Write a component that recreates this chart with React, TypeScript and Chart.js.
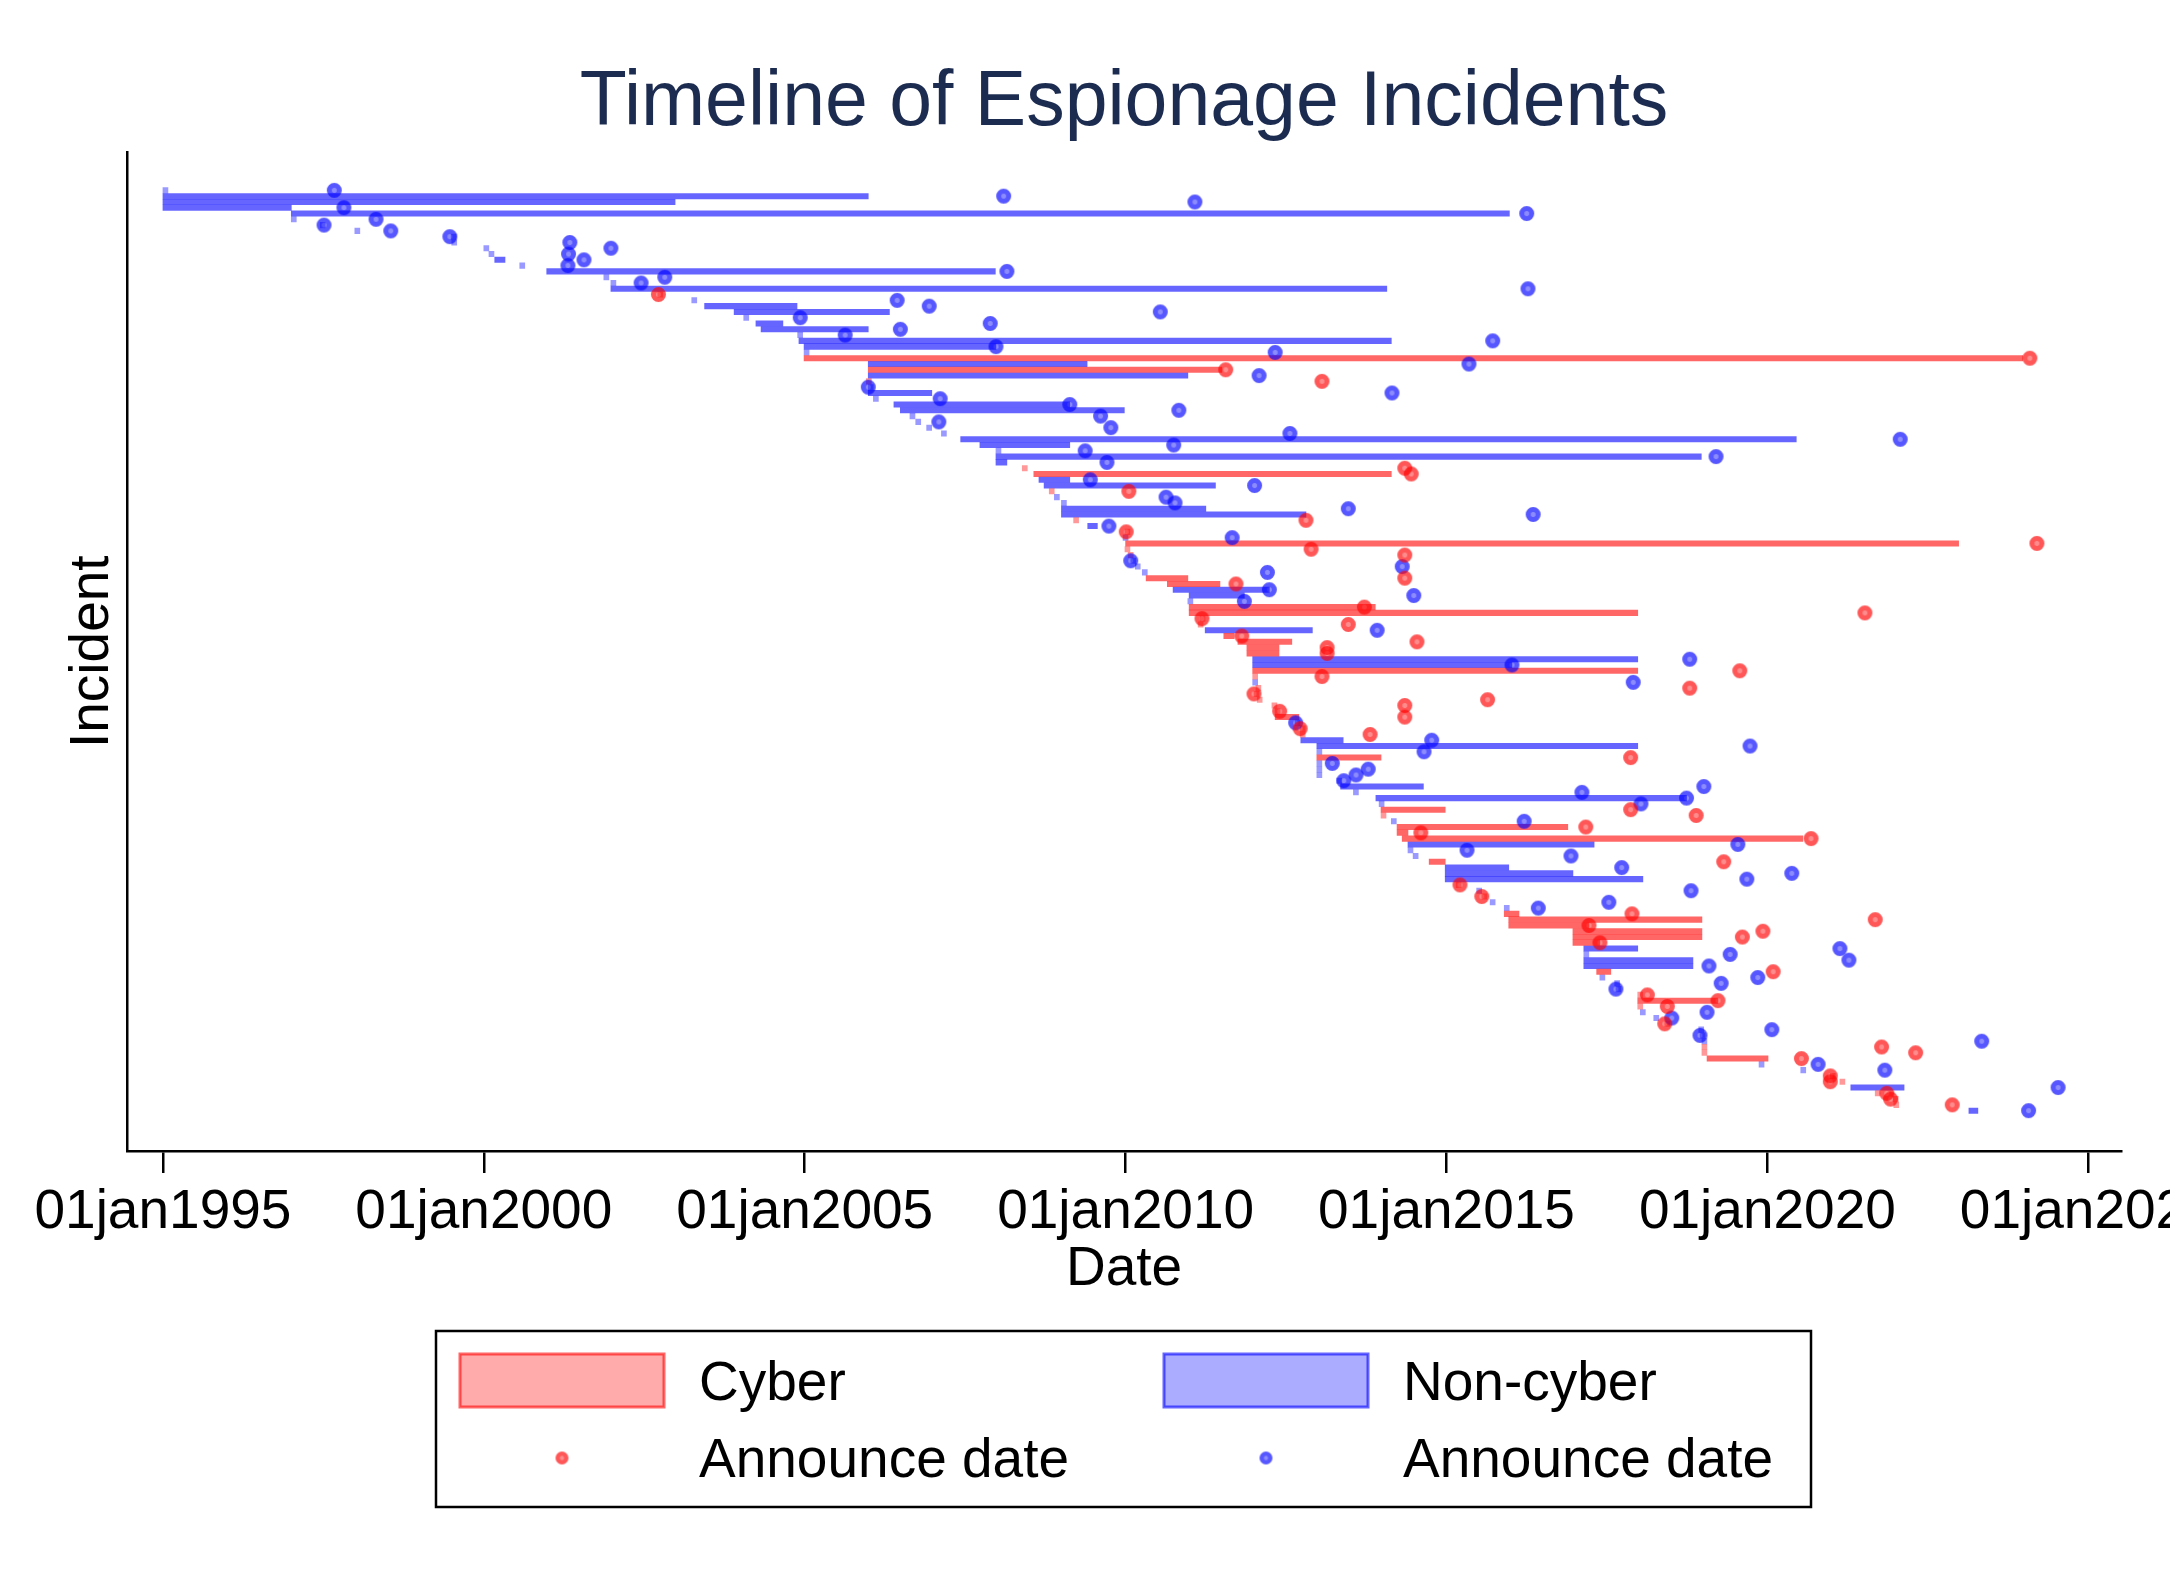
import { useEffect, useRef } from "react";
import { Chart, registerables } from "chart.js";

Chart.register(...registerables);

const TITLE = "Timeline of Espionage Incidents";
const TICK_YEARS = [1995, 2000, 2005, 2010, 2015, 2020, 2025];

// one entry per incident, top row first ("c" = cyber, "n" = non-cyber)
const INCIDENT_TYPE = [
  "n", "n", "n", "n", "n", "n", "n", "n", "n", "n",
  "n", "n", "n", "n", "n", "n", "n", "n", "c", "n",
  "n", "n", "n", "n", "n", "n", "n", "n", "n", "c",
  "n", "c", "n", "c", "n", "n", "n", "n", "n", "n",
  "n", "n", "n", "n", "n", "n", "n", "n", "c", "c",
  "n", "n", "c", "n", "n", "n", "n", "c", "n", "c",
  "n", "c", "c", "c", "n", "n", "n", "c", "c", "n",
  "n", "n", "c", "c", "c", "c", "n", "c", "c", "c",
  "c", "n", "n", "c", "c", "n", "c", "c", "c", "c",
  "c", "c", "n", "c", "c", "n", "n", "n", "c", "n",
  "n", "n", "n", "n", "n", "n", "n", "c", "c", "n",
  "c", "c", "c", "n", "n", "n", "c", "n", "n", "n",
  "c", "n", "c", "n", "n", "c", "c", "c", "c", "c",
  "c", "n", "n", "n", "n", "c", "n", "n", "n", "c",
  "c", "c", "n", "n", "c", "n", "n", "n", "c", "c",
  "c", "n", "n", "c", "c", "n", "c", "c", "c", "n",
];

// dates as decimal years
const START_YEAR = [
  1995.0, 1995.0, 1995.0, 1995.0, 1997.0, 1997.0, 1997.45, 1997.99, 1999.49, 1999.5,
  2000.0, 2000.08, 2000.17, 2000.56, 2000.98, 2001.87, 2001.98, 2001.98, 2002.71, 2003.24,
  2003.44, 2003.9, 2004.05, 2004.24, 2004.32, 2004.89, 2004.91, 2004.99, 2004.99, 2004.99,
  2005.99, 2005.99, 2005.99, 2005.96, 2005.99, 2005.99, 2006.07, 2006.39, 2006.49, 2006.64,
  2006.73, 2006.9, 2007.13, 2007.43, 2007.73, 2007.98, 2007.98, 2007.98, 2008.39, 2008.57,
  2008.65, 2008.73, 2008.81, 2008.89, 2009.0, 2009.0, 2009.0, 2009.19, 2009.41, 2009.99,
  2009.96, 2010.0, 2009.99, 2010.04, 2010.08, 2010.15, 2010.26, 2010.32, 2010.65, 2010.74,
  2010.99, 2010.97, 2010.99, 2010.99, 2011.16, 2011.13, 2011.24, 2011.53, 2011.75, 2011.89,
  2011.89, 2011.98, 2011.98, 2011.98, 2011.98, 2011.98, 2012.03, 2012.0, 2012.05, 2012.28,
  2012.33, 2012.33, 2012.64, 2012.72, 2012.72, 2012.73, 2012.98, 2012.98, 2012.98, 2012.98,
  2012.98, 2012.98, 2013.29, 2013.35, 2013.55, 2013.9, 2013.95, 2013.98, 2013.98, 2014.14,
  2014.23, 2014.23, 2014.31, 2014.4, 2014.4, 2014.48, 2014.73, 2014.98, 2014.98, 2014.98,
  2015.15, 2015.47, 2015.55, 2015.68, 2015.9, 2015.9, 2015.97, 2015.97, 2016.97, 2016.97,
  2016.97, 2017.14, 2017.14, 2017.14, 2017.14, 2017.34, 2017.39, 2017.62, 2017.64, 2017.98,
  2017.98, 2017.98, 2018.02, 2018.23, 2018.4, 2018.93, 2018.95, 2018.98, 2018.98, 2018.98,
  2019.06, 2019.87, 2020.52, 2020.98, 2021.13, 2021.3, 2021.68, 2021.96, 2021.97, 2023.14,
];

const END_YEAR = [
  1995.0, 2005.99, 2002.98, 1997.0, 2015.98, 1997.0, 1997.45, 1997.99, 1999.49, 1999.5,
  2000.0, 2000.08, 2000.33, 2000.56, 2007.97, 2001.87, 2001.98, 2014.07, 2002.71, 2003.24,
  2004.88, 2006.32, 2004.05, 2004.66, 2005.99, 2004.89, 2014.14, 2007.98, 2004.99, 2023.98,
  2009.4, 2011.5, 2010.97, 2005.96, 2005.99, 2006.98, 2006.07, 2009.13, 2009.98, 2006.64,
  2006.73, 2006.9, 2007.13, 2020.45, 2009.13, 2007.98, 2018.97, 2008.15, 2008.39, 2014.14,
  2009.13, 2011.4, 2008.81, 2008.89, 2009.0, 2011.25, 2012.81, 2009.19, 2009.56, 2009.99,
  2009.96, 2022.98, 2009.99, 2010.04, 2010.08, 2010.15, 2010.26, 2010.97, 2011.47, 2012.24,
  2011.85, 2010.97, 2013.89, 2017.98, 2011.16, 2011.13, 2012.91, 2011.69, 2012.59, 2012.39,
  2012.39, 2017.98, 2016.02, 2017.98, 2011.98, 2011.98, 2012.03, 2012.0, 2012.05, 2012.28,
  2012.33, 2012.7, 2012.64, 2012.72, 2012.72, 2013.39, 2017.98, 2012.98, 2013.98, 2012.98,
  2012.98, 2012.98, 2013.29, 2014.64, 2013.55, 2018.74, 2013.95, 2014.98, 2013.98, 2014.14,
  2016.89, 2014.4, 2020.55, 2017.3, 2014.4, 2014.48, 2014.98, 2015.97, 2016.97, 2018.06,
  2015.15, 2015.47, 2015.55, 2015.68, 2015.9, 2016.13, 2018.98, 2017.22, 2018.98, 2018.98,
  2017.39, 2017.98, 2017.14, 2018.84, 2018.84, 2017.56, 2017.39, 2017.62, 2017.64, 2017.98,
  2019.23, 2017.98, 2018.02, 2018.23, 2018.4, 2018.93, 2018.95, 2018.98, 2018.98, 2018.98,
  2020.01, 2019.87, 2020.52, 2020.98, 2021.13, 2022.13, 2021.68, 2021.96, 2021.97, 2023.28,
];

const ANNOUNCE_YEAR = [
  1997.67, 2008.1, 2011.08, 1997.82, 2016.25, 1998.32, 1997.51, 1998.55, 1999.47, 2001.34,
  2001.98, 2001.32, 2001.56, 2001.31, 2008.15, 2002.82, 2002.45, 2016.27, 2002.72, 2006.44,
  2006.94, 2010.54, 2004.93, 2007.89, 2006.49, 2005.63, 2015.72, 2007.98, 2012.33, 2024.09,
  2015.35, 2011.56, 2012.08, 2013.06, 2005.99, 2014.15, 2007.11, 2009.13, 2010.83, 2009.61,
  2007.09, 2009.77, 2012.56, 2022.07, 2010.75, 2009.37, 2019.2, 2009.71, 2014.35, 2014.45,
  2009.45, 2012.01, 2010.05, 2010.63, 2010.77, 2013.47, 2016.35, 2012.81, 2009.74, 2010.01,
  2011.66, 2024.2, 2012.89, 2014.35, 2010.08, 2014.31, 2012.21, 2014.35, 2011.72, 2012.24,
  2014.49, 2011.85, 2013.72, 2021.52, 2011.19, 2013.47, 2013.92, 2011.81, 2014.54, 2013.14,
  2013.14, 2018.79, 2016.02, 2019.57, 2013.06, 2017.91, 2018.79, 2012.0, 2015.64, 2014.35,
  2012.4, 2014.35, 2012.65, 2012.72, 2013.81, 2014.77, 2019.73, 2014.65, 2017.87, 2013.22,
  2013.78, 2013.59, 2013.4, 2019.01, 2017.11, 2018.74, 2018.03, 2017.87, 2018.89, 2016.21,
  2017.17, 2014.6, 2020.68, 2019.54, 2015.32, 2016.94, 2019.32, 2017.73, 2020.38, 2019.68,
  2015.21, 2018.81, 2015.55, 2017.53, 2016.43, 2017.89, 2021.68, 2017.22, 2019.93, 2019.61,
  2017.39, 2021.13, 2019.42, 2021.27, 2019.09, 2020.09, 2019.85, 2019.28, 2017.64, 2018.13,
  2019.23, 2018.44, 2019.06, 2018.51, 2018.4, 2020.07, 2018.95, 2023.34, 2021.78, 2022.31,
  2020.53, 2020.79, 2021.83, 2020.98, 2020.98, 2024.53, 2021.86, 2021.92, 2022.88, 2024.07,
];

const FONT = "'Liberation Sans', Arial, Helvetica, sans-serif";
const RED = "255,0,0";
const BLUE = "0,0,255";

// ring-shaped marker like Stata's translucent circle
function makeDot(rgb: string, size: number) {
  const s = Math.ceil(size) + 2;
  const c = document.createElement("canvas");
  c.width = s;
  c.height = s;
  const g = c.getContext("2d")!;
  const m = s / 2;
  const r = size / 2;
  g.fillStyle = `rgba(${rgb},0.66)`;
  g.beginPath();
  g.arc(m, m, r, 0, Math.PI * 2);
  g.arc(m, m, r * 0.3, 0, Math.PI * 2, true);
  g.fill();
  g.fillStyle = `rgba(${rgb},0.45)`;
  g.beginPath();
  g.arc(m, m, r * 0.3, 0, Math.PI * 2);
  g.fill();
  return c;
}

const rowsOf = (t: string) => INCIDENT_TYPE.map((_, i) => i).filter((i) => INCIDENT_TYPE[i] === t);

export default function App() {
  const canvasRef = useRef<HTMLCanvasElement | null>(null);

  useEffect(() => {
    const ctx = canvasRef.current!.getContext("2d")!;
    Chart.defaults.font.family = FONT;

    const redDot = makeDot(RED, 15);
    const blueDot = makeDot(BLUE, 15);
    const redDotSmall = makeDot(RED, 13);
    const blueDotSmall = makeDot(BLUE, 13);

    const bars = (t: string) =>
      rowsOf(t).map((i) => ({ y: i, x: [START_YEAR[i], END_YEAR[i]] }));
    const dots = (t: string) => rowsOf(t).map((i) => ({ x: ANNOUNCE_YEAR[i], y: i }));

    const barColor = (rgb: string) => (c: any) => {
      const r = c.raw as { x: number[] } | undefined;
      return r && r.x[0] === r.x[1] ? `rgba(${rgb},0.4)` : `rgba(${rgb},0.6)`;
    };

    const barStyle = {
      type: "bar" as const,
      indexAxis: "y" as const,
      borderWidth: 0,
      barThickness: 5.4,
      minBarLength: 5,
      grouped: false,
      order: 2,
    };

    const legendBox = {
      id: "legendBox",
      afterDraw(chart: Chart) {
        const g = chart.ctx;
        g.save();
        g.strokeStyle = "#000";
        g.lineWidth = 2.5;
        g.strokeRect(428, 1323, 1375, 176);

        g.lineWidth = 3;
        g.fillStyle = `rgba(${RED},0.33)`;
        g.strokeStyle = `rgba(${RED},0.6)`;
        g.fillRect(452, 1346, 204, 53);
        g.strokeRect(452, 1346, 204, 53);
        g.fillStyle = `rgba(${BLUE},0.33)`;
        g.strokeStyle = `rgba(${BLUE},0.6)`;
        g.fillRect(1156, 1346, 204, 53);
        g.strokeRect(1156, 1346, 204, 53);

        g.drawImage(redDotSmall, 554 - redDotSmall.width / 2, 1450 - redDotSmall.height / 2);
        g.drawImage(blueDotSmall, 1258 - blueDotSmall.width / 2, 1450 - blueDotSmall.height / 2);

        g.fillStyle = "#000";
        g.font = `55px ${FONT}`;
        g.textBaseline = "middle";
        g.textAlign = "left";
        g.fillText("Cyber", 691, 1377);
        g.fillText("Non-cyber", 1395, 1377);
        g.fillText("Announce date", 691, 1454);
        g.fillText("Announce date", 1395, 1454);
        g.restore();
      },
    };

    const chart = new Chart(ctx, {
      type: "scatter",
      data: {
        datasets: [
          { ...barStyle, label: "Cyber", data: bars("c"), backgroundColor: barColor(RED) },
          { ...barStyle, label: "Non-cyber", data: bars("n"), backgroundColor: barColor(BLUE) },
          {
            type: "scatter",
            label: "Announce date",
            data: dots("c"),
            pointStyle: redDot,
            radius: 7,
            order: 1,
          },
          {
            type: "scatter",
            label: "Announce date",
            data: dots("n"),
            pointStyle: blueDot,
            radius: 7,
            order: 1,
          },
        ] as any,
      },
      options: {
        responsive: false,
        animation: false,
        events: [],
        layout: { padding: { top: 0, left: 49, right: 127, bottom: 271 } },
        plugins: {
          legend: { display: false },
          tooltip: { enabled: false },
          title: {
            display: true,
            text: TITLE,
            color: "#1c2b50",
            fullSize: false,
            font: { size: 77, weight: "normal", lineHeight: 1.2 },
            padding: { top: 49.5, bottom: 2.5 },
          },
        },
        scales: {
          x: {
            type: "linear",
            min: 1994.44,
            max: 2025.51,
            offset: false,
            afterBuildTicks: (scale: any) => {
              scale.ticks = TICK_YEARS.map((v) => ({ value: v }));
            },
            ticks: {
              callback: (v: any) => `01jan${v}`,
              color: "#000",
              font: { size: 55, lineHeight: 1 },
              padding: 12,
              maxRotation: 0,
              autoSkip: false,
            },
            grid: {
              display: true,
              drawOnChartArea: false,
              drawTicks: true,
              tickLength: 22,
              color: "#000",
              lineWidth: 2.5,
              offset: false,
            },
            border: { display: true, color: "#000", width: 2.5 },
            title: {
              display: true,
              text: "Date",
              color: "#000",
              font: { size: 55, lineHeight: 1 },
              padding: { top: -10, bottom: 0 },
            },
          },
          y: {
            type: "linear",
            min: -6.56,
            max: 165.97,
            reverse: true,
            offset: false,
            ticks: { display: false },
            grid: { display: false, drawTicks: false },
            border: { display: true, color: "#000", width: 2.5 },
            title: {
              display: true,
              text: "Incident",
              color: "#000",
              font: { size: 55, lineHeight: 1 },
              padding: { top: 8.5, bottom: 6.5 },
            },
          },
        },
      },
      plugins: [legendBox],
    });

    return () => chart.destroy();
  }, []);

  return (
    <div style={{ width: 2168, height: 1560, overflow: "hidden" }}>
      <canvas
        ref={canvasRef}
        width={2240}
        height={1560}
        style={{ display: "block", width: 2240, height: 1560 }}
      />
    </div>
  );
}
